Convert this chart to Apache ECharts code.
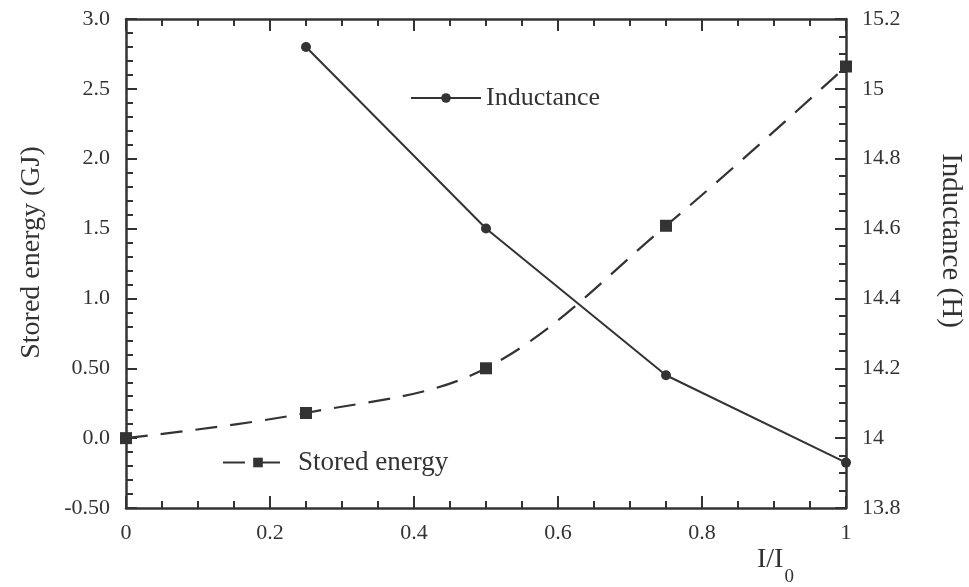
<!DOCTYPE html>
<html>
<head>
<meta charset="utf-8">
<script src="https://cdn.jsdelivr.net/npm/echarts@6/dist/echarts.min.js"></script>
<style>
  html, body { margin: 0; padding: 0; background: #fff; overflow: hidden; }
  #chart { width: 969px; height: 587px; }
</style>
</head>
<body>
<div id="chart"></div>
<script>
// Current ratio I/I0 on the horizontal axis
const currentRatio = [0, 0.25, 0.5, 0.75, 1];
// Stored energy (GJ), left axis
const storedEnergy = [0.0, 0.18, 0.50, 1.52, 2.66];
// Inductance (H), right axis (no value at I/I0 = 0)
const inductance = [null, 15.12, 14.60, 14.18, 13.93];

// Tick labels as printed on each axis
const xTickLabels = ['0', '0.2', '0.4', '0.6', '0.8', '1'];
const energyTickLabels = ['-0.50', '0.0', '0.50', '1.0', '1.5', '2.0', '2.5', '3.0'];
const inductanceTickLabels = ['13.8', '14', '14.2', '14.4', '14.6', '14.8', '15', '15.2'];

const ink = '#333333';
const serif = '"Liberation Serif", "Times New Roman", serif';

const pairs = (xs, ys) => xs.map((x, i) => [x, ys[i]]);
const pick = (labels, min, step) => v => {
  const i = Math.round((v - min) / step);
  return labels[i] !== undefined ? labels[i] : '';
};

const axisLine = { show: true, onZero: false, lineStyle: { color: ink, width: 2.5 } };
const tick = len => ({ show: true, inside: true, length: len, lineStyle: { color: ink, width: 2 } });
const minor = (n, len) => ({ show: true, splitNumber: n, length: len, lineStyle: { color: ink, width: 2 } });
const labelStyle = { color: ink, fontFamily: serif, fontSize: 22 };

const chart = echarts.init(document.getElementById('chart'));
chart.setOption({
  animation: false,
  backgroundColor: '#ffffff',
  grid: { left: 126, right: 123, top: 19, bottom: 79, containLabel: false, outerBoundsMode: 'none' },
  xAxis: [
    {
      type: 'value', position: 'bottom', min: 0, max: 1, interval: 0.2,
      axisLine, axisTick: tick(12), minorTick: minor(4, 7),
      splitLine: { show: false }, minorSplitLine: { show: false },
      axisLabel: Object.assign({ margin: 14, formatter: pick(xTickLabels, 0, 0.2) }, labelStyle)
    },
    {
      type: 'value', position: 'top', min: 0, max: 1, interval: 0.2,
      axisLine, axisTick: tick(12), minorTick: minor(4, 7),
      splitLine: { show: false }, minorSplitLine: { show: false },
      axisLabel: { show: false }
    }
  ],
  yAxis: [
    {
      type: 'value', position: 'left', min: -0.5, max: 3.0, interval: 0.5,
      axisLine, axisTick: tick(11), minorTick: minor(5, 7),
      splitLine: { show: false }, minorSplitLine: { show: false },
      axisLabel: Object.assign({ margin: 16, formatter: pick(energyTickLabels, -0.5, 0.5) }, labelStyle),
      name: 'Stored energy (GJ)', nameLocation: 'middle', nameGap: 80, nameRotate: 90,
      nameTextStyle: { color: ink, fontFamily: serif, fontSize: 28, padding: [0, 0, 0, 22] }
    },
    {
      type: 'value', position: 'right', min: 13.8, max: 15.2, interval: 0.2,
      axisLine, axisTick: tick(11), minorTick: minor(4, 7),
      splitLine: { show: false }, minorSplitLine: { show: false },
      axisLabel: Object.assign({ margin: 16, formatter: pick(inductanceTickLabels, 13.8, 0.2) }, labelStyle),
      name: 'Inductance (H)', nameLocation: 'middle', nameGap: 90, nameRotate: -90,
      nameTextStyle: { color: ink, fontFamily: serif, fontSize: 29, padding: [0, 46, 0, 0] }
    }
  ],
  legend: [
    {
      data: ['Inductance'], left: 410, top: 85, padding: 0, selectedMode: false,
      itemWidth: 70, itemHeight: 12,
      textStyle: { color: ink, fontFamily: serif, fontSize: 26 }
    },
    {
      data: ['Stored energy'], left: 222, top: 449, padding: 0, selectedMode: false,
      itemWidth: 70, itemHeight: 12,
      textStyle: { color: ink, fontFamily: serif, fontSize: 27 }
    }
  ],
  graphic: [
    {
      type: 'text', left: 757, top: 546,
      style: {
        text: '{a|I/I}{b|0}',
        rich: {
          a: { fontFamily: serif, fontSize: 28, fill: ink },
          b: { fontFamily: serif, fontSize: 19, fill: ink, padding: [34, 0, 0, 1] }
        }
      }
    }
  ],
  series: [
    {
      name: 'Inductance', type: 'line', xAxisIndex: 0, yAxisIndex: 1,
      data: pairs(currentRatio, inductance),
      symbol: 'circle', symbolSize: 10, showSymbol: true,
      lineStyle: { color: ink, width: 2 },
      itemStyle: { color: ink }
    },
    {
      name: 'Stored energy', type: 'line', xAxisIndex: 0, yAxisIndex: 0,
      data: pairs(currentRatio, storedEnergy),
      smooth: 0.35,
      symbol: 'rect', symbolSize: 12, showSymbol: true,
      lineStyle: { color: ink, width: 2.2, type: [22, 13] },
      itemStyle: { color: ink }
    }
  ]
});
</script>
</body>
</html>
